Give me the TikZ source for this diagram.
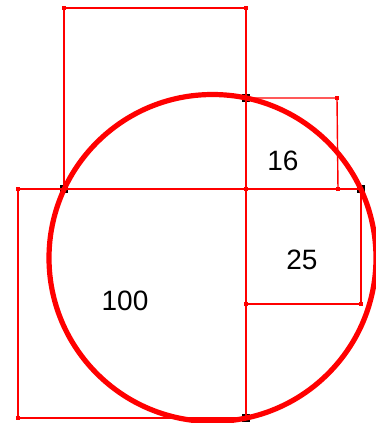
\documentclass[tikz,border=0pt]{standalone}
\usepackage{fontspec}
\setmainfont{Liberation Sans}
\usepackage{tikz}
\usetikzlibrary{positioning}
\tikzset{
  dot/.style={rectangle,fill=red,inner sep=0pt,minimum size=4.5pt},
  hit/.style={rectangle,fill=black,inner sep=0pt,minimum size=8.5pt},
  side/.style={line width=1.4pt,red},
  ring/.style={line width=5.2pt,red},
  lab/.style={font=\fontsize{28}{32}\selectfont}
}
\begin{document}
\begin{tikzpicture}[x=1pt,y=-1pt]
  \useasboundingbox (0,0) rectangle (375,423);
  % corners
  \coordinate (tl) at (64,8);
  \coordinate (tr) at (246,8);
  \coordinate (pl) at (64,189);
  \coordinate (pm) at (246,189);
  \coordinate (pr) at (361,189);
  \coordinate (ol) at (18,189);
  \coordinate (qt) at (246,98);
  \coordinate (qr) at (337,98);
  \coordinate (qb) at (338,189);
  \coordinate (fl) at (246,304);
  \coordinate (fr) at (361,304);
  \coordinate (hb) at (246,418);
  \coordinate (hl) at (18,418);
  % squares
  \foreach \p in {pl,qt,pr,hb}
    \node[hit] at (\p) {};
  \draw[side] (pl)--(tl)--(tr)--(hb);
  \draw[side] (ol)--(pr);
  \draw[side] (qt)--(qr)--(qb);
  \draw[side] (pr)--(fr)--(fl);
  \draw[side] (ol)--(hl)--(hb);
  \foreach \p in {tl,tr,pm,ol,qr,qb,fl,fr,hl}
    \node[dot] at (\p) {};
  % circle
  \node[circle,draw,ring,minimum size=327pt,inner sep=0pt] (c) at (212.5,258) {};
  \node[lab] (n16) at (283,161) {16};
  \node[lab] (n25) at (302,260) {25};
  \node[lab] (n100) at (125,301) {100};
\end{tikzpicture}
\end{document}
